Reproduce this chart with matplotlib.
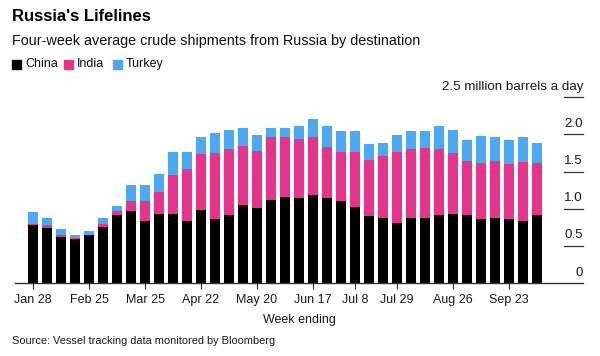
import matplotlib
matplotlib.use("Agg")
import matplotlib.pyplot as plt
import matplotlib.transforms as mtransforms
import numpy as np

plt.rcParams['font.family'] = ['Liberation Sans', 'DejaVu Sans']

weeks = ["Jan 28", "Feb 4", "Feb 11", "Feb 18", "Feb 25", "Mar 4", "Mar 11", "Mar 18",
         "Mar 25", "Apr 1", "Apr 8", "Apr 15", "Apr 22", "Apr 29", "May 6", "May 13",
         "May 20", "May 27", "Jun 3", "Jun 10", "Jun 17", "Jun 24", "Jul 1", "Jul 8",
         "Jul 15", "Jul 22", "Jul 29", "Aug 5", "Aug 12", "Aug 19", "Aug 26", "Sep 2",
         "Sep 9", "Sep 16", "Sep 23", "Sep 30", "Oct 7"]
china = [0.78, 0.74, 0.62, 0.59, 0.65, 0.76, 0.91, 0.97, 0.83, 0.93, 0.93, 0.83, 0.98,
         0.86, 0.91, 1.05, 1.01, 1.12, 1.16, 1.14, 1.19, 1.14, 1.11, 1.02, 0.90, 0.87,
         0.81, 0.88, 0.88, 0.91, 0.93, 0.91, 0.86, 0.88, 0.86, 0.83, 0.91]
india = [0.02, 0.04, 0.02, 0.02, 0.00, 0.04, 0.06, 0.13, 0.27, 0.29, 0.53, 0.71, 0.76,
         0.89, 0.89, 0.79, 0.77, 0.84, 0.81, 0.80, 0.78, 0.69, 0.65, 0.75, 0.75, 0.84,
         0.95, 0.93, 0.94, 0.90, 0.82, 0.73, 0.76, 0.76, 0.74, 0.80, 0.71]
turkey = [0.15, 0.10, 0.09, 0.03, 0.05, 0.07, 0.07, 0.22, 0.22, 0.25, 0.30, 0.22, 0.23,
          0.27, 0.26, 0.24, 0.21, 0.13, 0.12, 0.17, 0.24, 0.28, 0.29, 0.27, 0.22, 0.17,
          0.23, 0.23, 0.22, 0.31, 0.31, 0.28, 0.36, 0.32, 0.33, 0.34, 0.26]
tick_labels = ["Jan 28", "Feb 25", "Mar 25", "Apr 22", "May 20", "Jun 17", "Jul 8",
               "Jul 29", "Aug 26", "Sep 23"]
y_ticks = [0, 0.5, 1.0, 1.5, 2.0, 2.5]
y_tick_labels = ["0", "0.5", "1.0", "1.5", "2.0", "2.5 million barrels a day"]

c_china = "#000000"
c_india = "#E8338B"
c_turkey = "#4BA8F2"
txt = "#1a1a1a"

fig = plt.figure(figsize=(6.0, 3.56), dpi=100)
ax = fig.add_axes([0.025, 0.2051, 0.9467, 0.5216])

x = np.arange(len(weeks))
china_a = np.array(china)
india_a = np.array(india)
turkey_a = np.array(turkey)
w = 0.72
ax.bar(x, china_a, width=w, color=c_china, linewidth=0)
ax.bar(x, india_a, width=w, bottom=china_a, color=c_india, linewidth=0)
ax.bar(x, turkey_a, width=w, bottom=china_a + india_a, color=c_turkey, linewidth=0)

ax.set_xlim(-1.29, 39.29)
ax.set_ylim(0, 2.5)
for s in ["top", "right", "left"]:
    ax.spines[s].set_visible(False)
ax.spines["bottom"].set_color("#333333")
ax.spines["bottom"].set_linewidth(1.0)
ax.set_yticks([])

tick_pos = [weeks.index(t) for t in tick_labels]
ax.set_xticks(tick_pos)
ax.set_xticklabels(tick_labels, fontsize=9, color=txt)
ax.tick_params(axis="x", length=4, width=0.8, color="#333333", pad=4)

# right-side y labels with short lines
trans = mtransforms.blended_transform_factory(ax.transAxes, ax.transData)
x0 = 1 - 19 / 568
for v in y_ticks[1:]:
    ax.plot([x0, 1.0], [v, v], transform=trans, color="#333333", lw=0.9,
            clip_on=False)
for v, lab in zip(y_ticks, y_tick_labels):
    ax.text(1.0, v + 0.1, lab, transform=trans, ha="right", va="baseline",
            fontsize=9.6, color=txt, clip_on=False)

ax.set_xlabel("Week ending", fontsize=9, color=txt)
ax.xaxis.set_label_coords(0.5, -0.165)

fig.text(0.02, 0.955, "Russia's Lifelines", fontsize=12, fontweight="bold",
         ha="left", va="center", color="#000000")
fig.text(0.02, 0.885, "Four-week average crude shipments from Russia by destination",
         fontsize=10.4, ha="left", va="center", color="#111111")

# legend
sq_x = [12, 64, 113]
names = ["China", "India", "Turkey"]
cols = [c_china, c_india, c_turkey]
ly = 64
for sx, name, col in zip(sq_x, names, cols):
    fig.patches.append(plt.Rectangle((sx / 600, (356 - ly - 4.5) / 356), 9 / 600, 9 / 356,
                                     transform=fig.transFigure, color=col))
    fig.text((sx + 13) / 600, (356 - ly) / 356, name, fontsize=9, ha="left",
             va="center", color="#111111")

fig.text(0.02, 0.042, "Source: Vessel tracking data monitored by Bloomberg",
         fontsize=7.9, ha="left", va="center", color=txt)

fig.savefig("out.png", dpi=100)
